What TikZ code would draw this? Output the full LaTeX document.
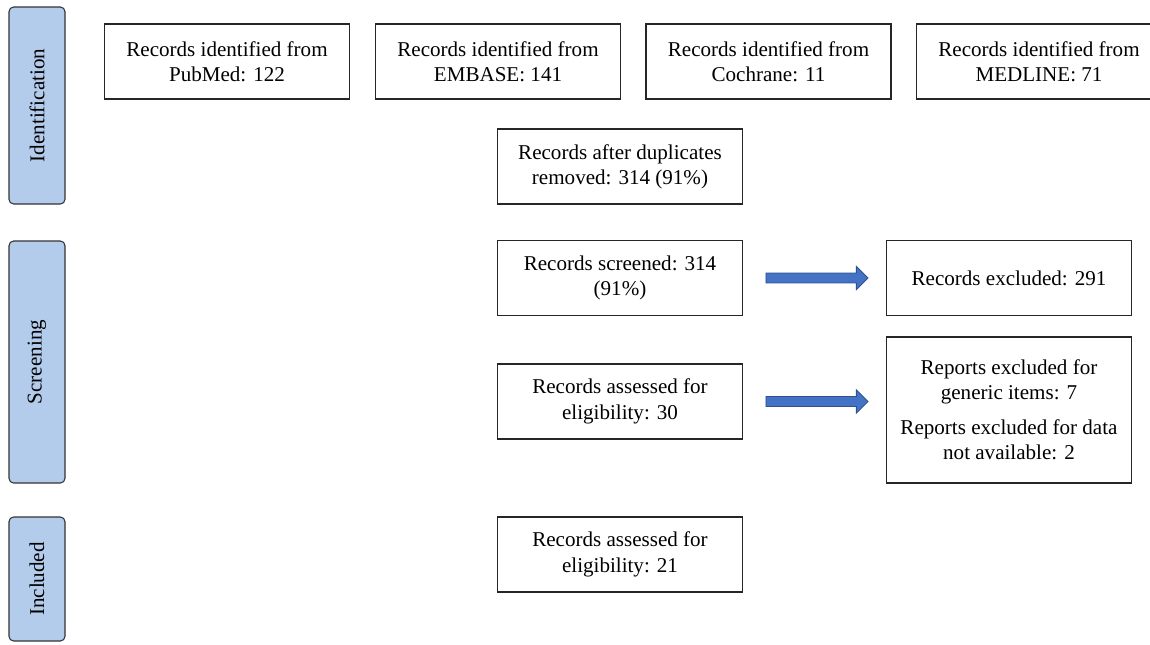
\documentclass[tikz,border=0pt]{standalone}
\usepackage{fontspec}
\setmainfont{Liberation Serif}
\usetikzlibrary{shapes.arrows}
\definecolor{bandfill}{RGB}{180,204,236}
\definecolor{arrowfill}{RGB}{68,114,196}
\definecolor{arrowline}{RGB}{47,82,143}
\tikzset{
  box/.style={draw=black!85, line width=0.9pt, minimum width=183.75pt, minimum height=56.25pt,
    align=center, inner sep=2pt, font=\fontsize{15.8}{19}\selectfont},
  band/.style={draw=black!80, line width=0.8pt, fill=bandfill, rounded corners=3.5pt,
    rotate=90, minimum height=42pt, inner sep=0pt, font=\fontsize{15.8}{19}\selectfont},
  blockarrow/.style={single arrow, draw=arrowline, fill=arrowfill, line width=0.6pt,
    inner xsep=0pt, inner ysep=3.4pt, single arrow head extend=5pt, single arrow tip angle=90,
    minimum height=76.5pt}
}
\begin{document}
\begin{tikzpicture}[x=0.75pt,y=-0.75pt]
\useasboundingbox (0,0) rectangle (1150,644);
\clip (0,0) rectangle (1150,644);
% phase bands
\node[band, minimum width=147.75pt] (bid) at (37,105.5) {Identification};
\node[band, minimum width=181.5pt] (bscr) at (37,362) {Screening};
\node[band, minimum width=93pt] (binc) at (37,579) {Included};
% boxes
\node[box] (pub) at (227,61.5) {Records identified from\\PubMed: 122};
\node[box] (emb) at (498,61.5) {Records identified from\\EMBASE: 141};
\node[box] (coc) at (768.5,61.5) {Records identified from\\Cochrane: 11};
\node[box] (med) at (1039,61.5) {Records identified from\\MEDLINE: 71};
\node[box] (dup) at (620,166.5) {Records after duplicates\\removed: 314 (91\%)};
\node[box] (scr) at (620,278) {Records screened: 314\\(91\%)};
\node[box] (exc) at (1009,278) {Records excluded: 291};
\node[box] (ass) at (620,401.5) {Records assessed for\\eligibility: 30};
\node[box, minimum height=109.5pt] (rep) at (1009,410) {Reports excluded for\\generic items: 7\\[7pt]Reports excluded for data\\not available: 2};
\node[box] (inc) at (620,554.5) {Records assessed for\\eligibility: 21};
% block arrows
\path (scr.east) -- (exc.west) node[midway, blockarrow] (a1) {};
\path (ass.east) -- (ass.east -| rep.west) node[midway, blockarrow] (a2) {};
\end{tikzpicture}
\end{document}
